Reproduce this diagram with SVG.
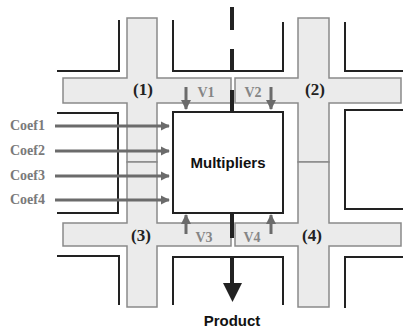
<svg xmlns="http://www.w3.org/2000/svg" width="403" height="329" viewBox="0 0 403 329">
<defs>
<style>
.bar{fill:#ebebeb;stroke:#8a8a8a;stroke-width:1.5}
.wall{fill:none;stroke:#222;stroke-width:2}
.lbl{font-family:"Liberation Serif",serif;font-weight:bold;font-size:17px;fill:#222;text-anchor:middle}
.v{font-family:"Liberation Serif",serif;font-weight:bold;font-size:14px;fill:#858585;text-anchor:middle}
.coef{font-family:"Liberation Serif",serif;font-weight:bold;font-size:14px;fill:#7a7a7a}
.arr{stroke:#6b6b6b;stroke-width:3;fill:none}
.sans{font-family:"Liberation Sans",Arial,sans-serif;font-weight:bold;fill:#111;text-anchor:middle}
</style>
<marker id="ah" viewBox="0 0 10 10" refX="9" refY="5" markerWidth="3" markerHeight="3.4" orient="auto" markerUnits="strokeWidth">
<path d="M0,0 L10,5 L0,10 Z" fill="#6b6b6b"/>
</marker>
<marker id="vh" viewBox="0 0 10 10" refX="9" refY="5" markerWidth="3.5" markerHeight="3.5" orient="auto" markerUnits="strokeWidth">
<path d="M0,0 L10,5 L0,10 Z" fill="#6b6b6b"/>
</marker>
</defs>
<rect width="403" height="329" fill="#fff"/>

<g id="walls">
<polyline class="wall" points="57,71 119,71 119,20"/>
<polyline class="wall" points="173,20 173,71 283,71 283,22"/>
<polyline class="wall" points="345,22 345,71 403,71"/>
<polyline class="wall" points="57,113 118,113 118,213 57,213"/>
<polyline class="wall" points="403,110 345,110 345,209 403,209"/>
<polyline class="wall" points="57,256 119,256 119,305"/>
<polyline class="wall" points="173,305 173,257 283,257 283,305"/>
<polyline class="wall" points="345,308 345,257 403,257"/>
</g>

<g id="cross1">
<path class="bar" d="M127,18 H157 V78 H231 V103 H157 V162 H127 V103 H63 V78 H127 Z"/>
<text class="lbl" x="143" y="95">(1)</text>
</g>
<g id="cross2">
<path class="bar" d="M298,18 H329 V78 H401 V103 H329 V162 H298 V103 H235 V78 H298 Z"/>
<text class="lbl" x="315" y="95">(2)</text>
</g>
<g id="cross3">
<path class="bar" d="M127,162 H157 V223 H231 V246 H157 V307 H127 V246 H63 V223 H127 Z"/>
<text class="lbl" x="141" y="241">(3)</text>
</g>
<g id="cross4">
<path class="bar" d="M298,162 H329 V223 H401 V246 H329 V307 H298 V246 H235 V223 H298 Z"/>
<text class="lbl" x="312" y="241">(4)</text>
</g>

<g id="multipliers">
<rect x="173" y="112" width="110" height="101" fill="#fff" stroke="#222" stroke-width="2"/>
<text class="sans" x="228" y="168" font-size="15">Multipliers</text>
</g>

<g id="connectors">
<line x1="55" y1="126" x2="169" y2="126" class="arr" marker-end="url(#ah)"/>
<line x1="55" y1="151" x2="169" y2="151" class="arr" marker-end="url(#ah)"/>
<line x1="55" y1="176" x2="169" y2="176" class="arr" marker-end="url(#ah)"/>
<line x1="55" y1="200" x2="169" y2="200" class="arr" marker-end="url(#ah)"/>
<line x1="186" y1="87" x2="186" y2="109" class="arr" marker-end="url(#vh)"/>
<line x1="271" y1="87" x2="271" y2="109" class="arr" marker-end="url(#vh)"/>
<line x1="186" y1="234" x2="186" y2="215" class="arr" marker-end="url(#vh)"/>
<line x1="271" y1="234" x2="271" y2="215" class="arr" marker-end="url(#vh)"/>
<line x1="232" y1="7" x2="232" y2="30" stroke="#222" stroke-width="4"/>
<line x1="232" y1="49" x2="232" y2="71" stroke="#222" stroke-width="4"/>
<line x1="232" y1="90" x2="232" y2="112" stroke="#222" stroke-width="4"/>
<line x1="232" y1="213" x2="232" y2="238" stroke="#222" stroke-width="4"/>
<line x1="232" y1="257" x2="232" y2="283" stroke="#222" stroke-width="4"/>
<path d="M223,283 L242,283 L232.5,302 Z" fill="#222"/>
</g>

<g id="labels">
<text class="v" x="206" y="97">V1</text>
<text class="v" x="253" y="97">V2</text>
<text class="v" x="204" y="242">V3</text>
<text class="v" x="252" y="242">V4</text>
<text class="coef" x="10" y="129.5">Coef1</text>
<text class="coef" x="10" y="154.5">Coef2</text>
<text class="coef" x="10" y="179.5">Coef3</text>
<text class="coef" x="10" y="203.5">Coef4</text>
<text class="sans" x="232" y="326" font-size="15">Product</text>
</g>
</svg>
